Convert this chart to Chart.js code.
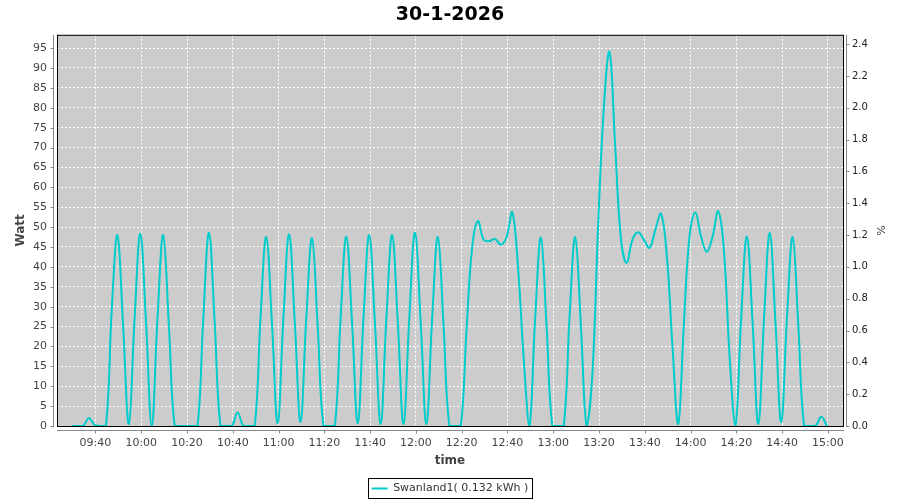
<!DOCTYPE html>
<html>
<head>
<meta charset="utf-8">
<title>30-1-2026</title>
<script src="https://cdn.jsdelivr.net/npm/chart.js@4.4.1/dist/chart.umd.min.js"></script>
<style>
  html, body { margin: 0; padding: 0; background: #fff; }
  #grafico { display: block; }
</style>
</head>
<body>
<canvas id="grafico" width="900" height="500"></canvas>
<script>
// titel en legenda
var titel        = '30-1-2026';
var legendaTekst = 'Swanland1( 0.132 kWh )';

// meetmomenten (elke 2,5 minuut)
var tijden = [
    '09:29:36','09:32:06','09:34:36','09:37:06','09:39:36','09:42:06','09:44:36','09:47:06',
    '09:49:36','09:52:06','09:54:36','09:57:06','09:59:36','10:02:06','10:04:36','10:07:06',
    '10:09:36','10:12:06','10:14:36','10:17:06','10:19:36','10:22:06','10:24:36','10:27:06',
    '10:29:36','10:32:06','10:34:36','10:37:06','10:39:36','10:42:06','10:44:36','10:47:06',
    '10:49:36','10:52:06','10:54:36','10:57:06','10:59:36','11:02:06','11:04:36','11:07:06',
    '11:09:36','11:12:06','11:14:36','11:17:06','11:19:36','11:22:06','11:24:36','11:27:06',
    '11:29:36','11:32:06','11:34:36','11:37:06','11:39:36','11:42:06','11:44:36','11:47:06',
    '11:49:36','11:52:06','11:54:36','11:57:06','11:59:36','12:02:06','12:04:36','12:07:06',
    '12:09:36','12:12:06','12:14:36','12:17:06','12:19:36','12:22:06','12:24:36','12:27:06',
    '12:29:36','12:32:06','12:34:36','12:37:06','12:39:36','12:42:06','12:44:36','12:47:06',
    '12:49:36','12:52:06','12:54:36','12:57:06','12:59:36','13:02:06','13:04:36','13:07:06',
    '13:09:36','13:12:06','13:14:36','13:17:06','13:19:36','13:22:06','13:24:36','13:27:06',
    '13:29:36','13:32:06','13:34:36','13:37:06','13:39:36','13:42:06','13:44:36','13:47:06',
    '13:49:36','13:52:06','13:54:36','13:57:06','13:59:36','14:02:06','14:04:36','14:07:06',
    '14:09:36','14:12:06','14:14:36','14:17:06','14:19:36','14:22:06','14:24:36','14:27:06',
    '14:29:36','14:32:06','14:34:36','14:37:06','14:39:36','14:42:06','14:44:36','14:47:06',
    '14:49:36','14:52:06','14:54:36','14:57:06','14:59:36'
];

// vermogen in Watt
var watt = [
    0,    0,    0,    2,    0.3,  0,    0,    29,
    48,   25,   0.5,  27,   48.3, 26,   0,    27,
    48,   25,   0,    0,    0,    0,    0,    27,
    48.5, 26,   0,    0,    0,    3.4,  0,    0,
    0,    27,   47.5, 26,   0.7,  27,   48.2, 26,
    1,    27,   47.2, 25,   0,    0,    0,    27,
    47.6, 26,   0.7,  27,   48,   26,   0.5,  27,
    48,   26,   0.5,  27,   48.6, 26,   0.5,  27,
    47.5, 25,   0,    0,    0,    24,   45,   51.5,
    46.8, 46.5, 47,   45.6, 47.5, 53.7, 40,   17,
    0,    27,   47.4, 25,   0,    0,    0,    27,
    47.5, 25,   0,    13,   50,   80,   94,   70,
    47,   41,   46.8, 48.7, 46.8, 44.8, 49.3, 53.3,
    43,   20,   0.5,  26,   48,   53.7, 47.6, 43.8,
    47.6, 54,   44,   17,   0,    27,   47.6, 26,
    0.5,  27,   48.5, 26,   1,    27,   47.5, 25,
    0,    0,    0,    2.3,  0
];

// assen
var tijdLabels   = ['09:40','10:00','10:20','10:40','11:00','11:20','11:40','12:00','12:20',
                    '12:40','13:00','13:20','13:40','14:00','14:20','14:40','15:00'];
var wattTicks    = [0,5,10,15,20,25,30,35,40,45,50,55,60,65,70,75,80,85,90,95];
var procentTicks = [0,0.2,0.4,0.6,0.8,1.0,1.2,1.4,1.6,1.8,2.0,2.2,2.4];

function naarMinuten(s) {
    var p = s.split(':');
    return +p[0] * 60 + +p[1] + (p[2] ? +p[2] / 60 : 0);
}
function naarTijd(m) {
    var u = Math.floor(m / 60), mm = Math.round(m - u * 60);
    return (u < 10 ? '0' : '') + u + ':' + (mm < 10 ? '0' : '') + mm;
}

var punten = tijden.map(function(t, i) {
    return { x: naarMinuten(t), y: watt[i] };
});

// grijze plotachtergrond, zwarte rand, assen en legendakader
var plotRand = {
    id: 'plotRand',
    beforeDraw: function(chart) {
        var a = chart.chartArea, ctx = chart.ctx;
        ctx.save();
        ctx.fillStyle = '#cccccc';
        ctx.fillRect(a.left, a.top, a.right - a.left, a.bottom - a.top);
        ctx.restore();
    },
    afterDraw: function(chart) {
        var a = chart.chartArea, ctx = chart.ctx;
        ctx.save();
        ctx.lineWidth = 1;
        ctx.strokeStyle = '#000000';
        ctx.strokeRect(a.left + 0.5, a.top + 0.5, a.right - a.left, a.bottom - a.top);

        ctx.strokeStyle = '#888888';
        ctx.beginPath();
        var lx = a.left - 3.5;
        ctx.moveTo(lx, a.top); ctx.lineTo(lx, a.bottom + 1);
        chart.scales.y.ticks.forEach(function(t) {
            var py = Math.round(chart.scales.y.getPixelForValue(t.value)) + 0.5;
            ctx.moveTo(lx - 3, py); ctx.lineTo(lx, py);
        });
        var rx = a.right + 3.5;
        ctx.moveTo(rx, a.top); ctx.lineTo(rx, a.bottom + 1);
        chart.scales.y1.ticks.forEach(function(t) {
            var py = Math.round(chart.scales.y1.getPixelForValue(t.value)) + 0.5;
            ctx.moveTo(rx, py); ctx.lineTo(rx + 3, py);
        });
        var by = a.bottom + 4.5;
        ctx.moveTo(a.left, by); ctx.lineTo(a.right + 1, by);
        chart.scales.x.ticks.forEach(function(t) {
            var px = Math.round(chart.scales.x.getPixelForValue(t.value)) + 0.5;
            ctx.moveTo(px, by); ctx.lineTo(px, by + 3);
        });
        ctx.stroke();

        var hb = chart.legend.legendHitBoxes[0];
        if (hb) {
            ctx.strokeStyle = '#000000';
            ctx.strokeRect(Math.round(hb.left) - 3.5, Math.round(hb.top + hb.height / 2) - 10.5,
                           Math.round(hb.width) + 7, 20);
        }
        ctx.restore();
    }
};

Chart.defaults.font.family = "'DejaVu Sans', sans-serif";

var grafiek = new Chart(document.getElementById('grafico'), {
    type: 'line',
    data: {
        datasets: [{
            label: legendaTekst,
            data: punten,
            borderColor: '#00cccc',
            backgroundColor: '#00cccc',
            borderWidth: 2,
            pointRadius: 0,
            tension: 0.4,
            fill: false,
            clip: 0,
            yAxisID: 'y'
        }]
    },
    options: {
        responsive: false,
        animation: false,
        // legenda iets lager, zoals in het origineel
        layout: { padding: { top: 0, left: 0, right: 0, bottom: -4 } },
        plugins: {
            title: {
                display: true,
                text: titel,
                color: '#000000',
                font: { size: 19, weight: 'bold' },
                padding: { top: 4, bottom: 8 }
            },
            legend: {
                position: 'bottom',
                labels: {
                    color: '#333333',
                    font: { size: 11 },
                    usePointStyle: true,
                    pointStyle: 'line',
                    pointStyleWidth: 16,
                    padding: 0
                }
            },
            tooltip: { enabled: false }
        },
        scales: {
            x: {
                type: 'linear',
                min: naarMinuten('09:23:12'),
                max: naarMinuten('15:06:36'),
                afterBuildTicks: function(scale) {
                    scale.ticks = tijdLabels.map(function(l) { return { value: naarMinuten(l) }; });
                },
                afterFit: function(scale) {
                    scale.height = scale.chart.height + 4 - scale.chart.legend.height - 426;
                },
                ticks: {
                    color: '#444444',
                    font: { size: 11 },
                    padding: 11,
                    maxRotation: 0,
                    autoSkip: false,
                    callback: function(v) { return naarTijd(v); }
                },
                grid: { color: '#ffffff', lineWidth: 1, drawTicks: false },
                border: { display: false, dash: [2, 2] },
                title: {
                    display: true,
                    text: 'time',
                    color: '#444444',
                    font: { size: 12, weight: 'bold' },
                    padding: { top: 0, bottom: 15 }
                }
            },
            y: {
                position: 'left',
                min: 0,
                max: 98.34,
                afterBuildTicks: function(scale) {
                    scale.ticks = wattTicks.map(function(v) { return { value: v }; });
                },
                afterFit: function(scale) { scale.width = 57; },
                ticks: { color: '#444444', font: { size: 11 }, padding: 10 },
                grid: { color: '#ffffff', lineWidth: 1, drawTicks: false },
                border: { display: false, dash: [2, 2] },
                title: {
                    display: true,
                    text: 'Watt',
                    color: '#444444',
                    font: { size: 12, weight: 'bold' },
                    padding: { top: 14, bottom: 0 }
                }
            },
            y1: {
                position: 'right',
                min: 0,
                max: 2.4585,
                afterBuildTicks: function(scale) {
                    scale.ticks = procentTicks.map(function(v) { return { value: v }; });
                },
                afterFit: function(scale) { scale.width = 57; },
                ticks: {
                    color: '#222222',
                    font: { size: 10 },
                    padding: 9,
                    callback: function(v) { return v.toFixed(1); }
                },
                grid: { drawOnChartArea: false, drawTicks: false },
                border: { display: false },
                title: {
                    display: true,
                    text: '%',
                    color: '#444444',
                    font: { size: 11 },
                    padding: { top: 14, bottom: 0 }
                }
            }
        }
    },
    plugins: [plotRand]
});
</script>
</body>
</html>
